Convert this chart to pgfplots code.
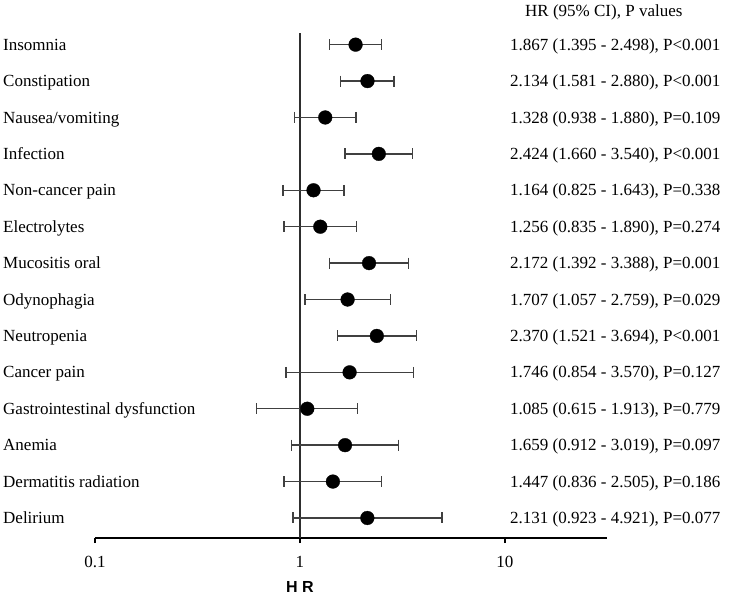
\documentclass[border=0pt]{standalone}
\usepackage{pgfplots}
\pgfplotsset{compat=1.18}
\usepackage{fontspec}
\setmainfont{Liberation Serif}
\newfontfamily\arialfont{Liberation Sans}
\definecolor{errcol}{HTML}{404040}
\definecolor{refcol}{HTML}{2E2E2E}
\newcommand\row[3]{%
  \node[anchor=base west, inner sep=0pt, xshift=-92pt, yshift=-5.6pt] at (axis cs:0.1,#1) {#2};
  \node[anchor=base west, inner sep=0pt, xshift=5pt, yshift=-5.6pt] at (axis cs:10,#1) {#3};}
\begin{document}
\fontsize{17pt}{20pt}\selectfont
\begin{tikzpicture}
\path[use as bounding box] (0pt,0pt) rectangle (733pt,-596pt);
\begin{axis}[
  at={(95pt,-538pt)}, anchor=south west,
  scale only axis, width=512pt, height=505pt,
  xmode=log, xmin=0.1, xmax=31.45, ymin=0.45, ymax=14.32,
  axis x line=bottom, axis y line=none,
  x axis line style={-, line width=1.4pt, black},
  xtick={0.1,1,10}, xticklabels={0.1,1,10},
  xminorticks=false,
  tick align=outside, major tick length=5pt,
  xtick style={line width=1.4pt, black},
  xticklabel style={font=\fontsize{17pt}{20pt}\selectfont, yshift=-7pt},
  /pgf/number format/assume math mode=true,
  clip=false,
  unbounded coords=jump,
]
\addplot[refcol, line width=1.3pt, mark=none] coordinates {(1,0.45) (1,14.32)};
\addplot[errcol, line width=1.4pt, mark=|, mark size=5.5pt, mark options={solid, line width=1.4pt}] coordinates {
(1.395,14) (2.498,14) (nan,14)
(1.581,13) (2.880,13) (nan,13)
(0.938,12) (1.880,12) (nan,12)
(1.660,11) (3.540,11) (nan,11)
(0.825,10) (1.643,10) (nan,10)
(0.835,9) (1.890,9) (nan,9)
(1.392,8) (3.388,8) (nan,8)
(1.057,7) (2.759,7) (nan,7)
(1.521,6) (3.694,6) (nan,6)
(0.854,5) (3.570,5) (nan,5)
(0.615,4) (1.913,4) (nan,4)
(0.912,3) (3.019,3) (nan,3)
(0.836,2) (2.505,2) (nan,2)
(0.923,1) (4.921,1)
};
\addplot[only marks, mark=*, mark size=6.9pt, black, mark options={fill=black, draw=black, line width=0.3pt}] coordinates {
(1.867,14) (2.134,13) (1.328,12) (2.424,11) (1.164,10) (1.256,9) (2.172,8)
(1.707,7) (2.370,6) (1.746,5) (1.085,4) (1.659,3) (1.447,2) (2.131,1)
};
\row{14}{Insomnia}{1.867 (1.395 - 2.498), P<0.001}
\row{13}{Constipation}{2.134 (1.581 - 2.880), P<0.001}
\row{12}{Nausea/vomiting}{1.328 (0.938 - 1.880), P=0.109}
\row{11}{Infection}{2.424 (1.660 - 3.540), P<0.001}
\row{10}{Non-cancer pain}{1.164 (0.825 - 1.643), P=0.338}
\row{9}{Electrolytes}{1.256 (0.835 - 1.890), P=0.274}
\row{8}{Mucositis oral}{2.172 (1.392 - 3.388), P=0.001}
\row{7}{Odynophagia}{1.707 (1.057 - 2.759), P=0.029}
\row{6}{Neutropenia}{2.370 (1.521 - 3.694), P<0.001}
\row{5}{Cancer pain}{1.746 (0.854 - 3.570), P=0.127}
\row{4}{Gastrointestinal dysfunction}{1.085 (0.615 - 1.913), P=0.779}
\row{3}{Anemia}{1.659 (0.912 - 3.019), P=0.097}
\row{2}{Dermatitis radiation}{1.447 (0.836 - 2.505), P=0.186}
\row{1}{Delirium}{2.131 (0.923 - 4.921), P=0.077}
\node[anchor=base, inner sep=0pt, yshift=-54.7pt, font=\arialfont\bfseries\fontsize{16pt}{18pt}\selectfont] at (axis cs:1,0.45) {H R};
\end{axis}
\node[anchor=base west, inner sep=0pt] at (525pt,-16.5pt) {HR (95\% CI), P values};
\end{tikzpicture}
\end{document}
